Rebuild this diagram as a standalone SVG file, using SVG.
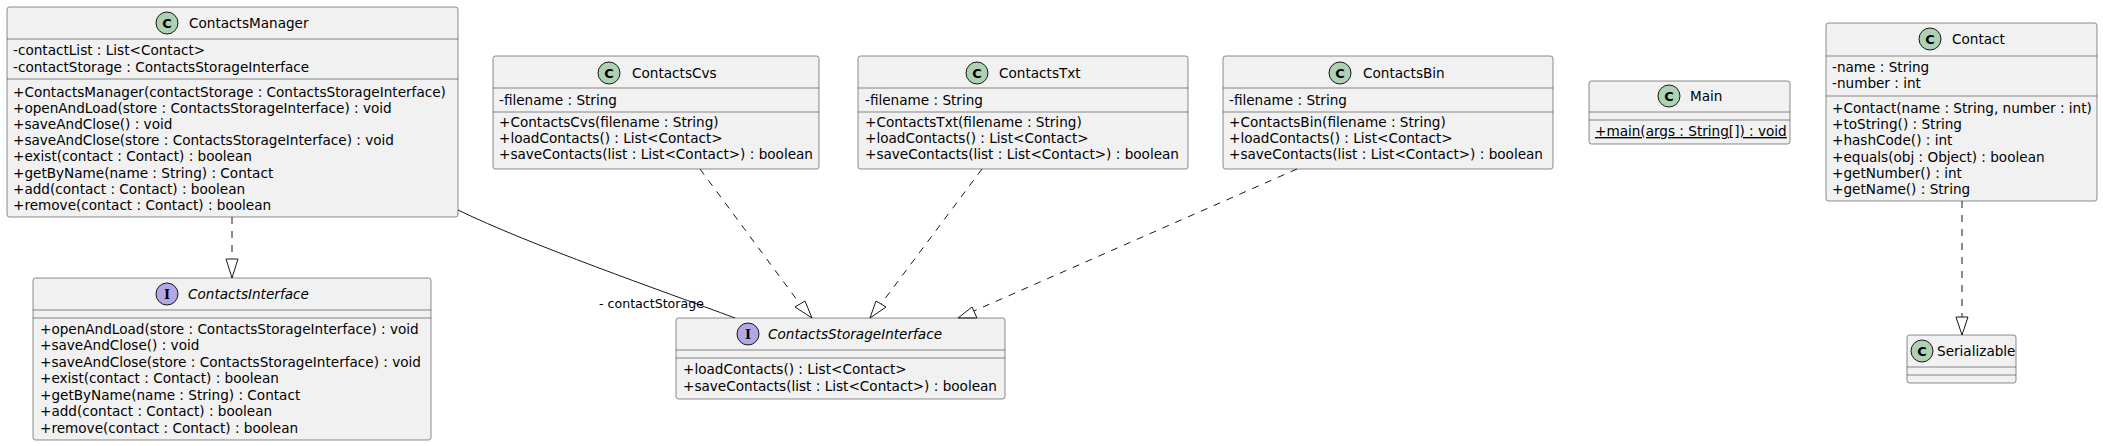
<svg xmlns="http://www.w3.org/2000/svg" width="2103" height="446" viewBox="0 0 2103 446">
<style>
.box{fill:#F1F1F1;stroke:#181818;stroke-width:0.5}
.sep{stroke:#181818;stroke-width:0.5}
.t{font-family:"DejaVu Sans",sans-serif;font-size:13.6px;fill:#000000}
.it{font-style:italic}
.cc{fill:#ADD1B2;stroke:#181818;stroke-width:1}
.ci{fill:#B4A7E5;stroke:#181818;stroke-width:1}
.g{font-family:"DejaVu Sans",sans-serif;font-weight:bold;font-size:13px;text-anchor:middle;fill:#000000}
.gi{font-family:"DejaVu Serif",serif;font-weight:bold;font-size:13px;text-anchor:middle;fill:#000000}
.dash{fill:none;stroke:#181818;stroke-width:1;stroke-dasharray:7,7}
.line{fill:none;stroke:#181818;stroke-width:1}
.head{fill:none;stroke:#181818;stroke-width:1}
.lbl{font-family:"DejaVu Sans",sans-serif;font-size:12.6px;fill:#000000}
</style>
<rect width="2103" height="446" fill="#FFFFFF"/>

<g id="ContactsManager">
<rect class="box" x="7" y="7" width="451" height="210" rx="2.5" ry="2.5"/>
<circle class="cc" cx="167" cy="23" r="11"/><text class="g" x="167" y="27.6">C</text>
<text class="t" x="189" y="28">ContactsManager</text>
<line class="sep" x1="7" y1="39" x2="458" y2="39"/>
<text class="t" x="13" y="55.3">-contactList : List&lt;Contact&gt;</text>
<text class="t" x="13" y="71.5">-contactStorage : ContactsStorageInterface</text>
<line class="sep" x1="7" y1="79" x2="458" y2="79"/>
<text class="t" x="13" y="96.5">+ContactsManager(contactStorage : ContactsStorageInterface)</text>
<text class="t" x="13" y="112.7">+openAndLoad(store : ContactsStorageInterface) : void</text>
<text class="t" x="13" y="128.9">+saveAndClose() : void</text>
<text class="t" x="13" y="145.1">+saveAndClose(store : ContactsStorageInterface) : void</text>
<text class="t" x="13" y="161.3">+exist(contact : Contact) : boolean</text>
<text class="t" x="13" y="177.5">+getByName(name : String) : Contact</text>
<text class="t" x="13" y="193.7">+add(contact : Contact) : boolean</text>
<text class="t" x="13" y="209.9">+remove(contact : Contact) : boolean</text>
</g>

<g id="ContactsInterface">
<rect class="box" x="33" y="278" width="398" height="162" rx="2.5" ry="2.5"/>
<circle class="ci" cx="167" cy="294" r="11"/><text class="gi" x="167" y="298.6">I</text>
<text class="t it" x="188" y="298.5">ContactsInterface</text>
<line class="sep" x1="33" y1="310" x2="431" y2="310"/>
<line class="sep" x1="33" y1="318" x2="431" y2="318"/>
<text class="t" x="40" y="334">+openAndLoad(store : ContactsStorageInterface) : void</text>
<text class="t" x="40" y="350.4">+saveAndClose() : void</text>
<text class="t" x="40" y="366.8">+saveAndClose(store : ContactsStorageInterface) : void</text>
<text class="t" x="40" y="383.3">+exist(contact : Contact) : boolean</text>
<text class="t" x="40" y="399.7">+getByName(name : String) : Contact</text>
<text class="t" x="40" y="416.2">+add(contact : Contact) : boolean</text>
<text class="t" x="40" y="432.7">+remove(contact : Contact) : boolean</text>
</g>

<g id="ContactsCvs">
<rect class="box" x="493" y="56" width="326" height="113" rx="2.5" ry="2.5"/>
<circle class="cc" cx="609" cy="73" r="11"/><text class="g" x="609" y="77.6">C</text>
<text class="t" x="632" y="77.5">ContactsCvs</text>
<line class="sep" x1="493" y1="88" x2="819" y2="88"/>
<text class="t" x="499" y="105">-filename : String</text>
<line class="sep" x1="493" y1="112" x2="819" y2="112"/>
<text class="t" x="499" y="127.3">+ContactsCvs(filename : String)</text>
<text class="t" x="499" y="143.3">+loadContacts() : List&lt;Contact&gt;</text>
<text class="t" x="499" y="159.3">+saveContacts(list : List&lt;Contact&gt;) : boolean</text>
</g>

<g id="ContactsTxt">
<rect class="box" x="858" y="56" width="330" height="113" rx="2.5" ry="2.5"/>
<circle class="cc" cx="977" cy="73" r="11"/><text class="g" x="977" y="77.6">C</text>
<text class="t" x="999" y="77.5">ContactsTxt</text>
<line class="sep" x1="858" y1="88" x2="1188" y2="88"/>
<text class="t" x="865" y="105">-filename : String</text>
<line class="sep" x1="858" y1="112" x2="1188" y2="112"/>
<text class="t" x="865" y="127.3">+ContactsTxt(filename : String)</text>
<text class="t" x="865" y="143.3">+loadContacts() : List&lt;Contact&gt;</text>
<text class="t" x="865" y="159.3">+saveContacts(list : List&lt;Contact&gt;) : boolean</text>
</g>

<g id="ContactsBin">
<rect class="box" x="1223" y="56" width="330" height="113" rx="2.5" ry="2.5"/>
<circle class="cc" cx="1340" cy="73" r="11"/><text class="g" x="1340" y="77.6">C</text>
<text class="t" x="1363" y="77.5">ContactsBin</text>
<line class="sep" x1="1223" y1="88" x2="1553" y2="88"/>
<text class="t" x="1229" y="105">-filename : String</text>
<line class="sep" x1="1223" y1="112" x2="1553" y2="112"/>
<text class="t" x="1229" y="127.3">+ContactsBin(filename : String)</text>
<text class="t" x="1229" y="143.3">+loadContacts() : List&lt;Contact&gt;</text>
<text class="t" x="1229" y="159.3">+saveContacts(list : List&lt;Contact&gt;) : boolean</text>
</g>

<g id="Main">
<rect class="box" x="1589" y="81" width="201" height="63" rx="2.5" ry="2.5"/>
<circle class="cc" cx="1669" cy="96" r="11"/><text class="g" x="1669" y="100.6">C</text>
<text class="t" x="1690" y="101">Main</text>
<line class="sep" x1="1589" y1="112" x2="1790" y2="112"/>
<line class="sep" x1="1589" y1="120" x2="1790" y2="120"/>
<text class="t" x="1595" y="136" text-decoration="underline">+main(args : String[]) : void</text>
</g>

<g id="Contact">
<rect class="box" x="1826" y="23" width="271" height="178" rx="2.5" ry="2.5"/>
<circle class="cc" cx="1930" cy="39" r="11"/><text class="g" x="1930" y="43.6">C</text>
<text class="t" x="1952" y="43.5">Contact</text>
<line class="sep" x1="1826" y1="56" x2="2097" y2="56"/>
<text class="t" x="1832" y="72">-name : String</text>
<text class="t" x="1832" y="88.3">-number : int</text>
<line class="sep" x1="1826" y1="96" x2="2097" y2="96"/>
<text class="t" x="1832" y="112.7">+Contact(name : String, number : int)</text>
<text class="t" x="1832" y="129">+toString() : String</text>
<text class="t" x="1832" y="145.3">+hashCode() : int</text>
<text class="t" x="1832" y="161.6">+equals(obj : Object) : boolean</text>
<text class="t" x="1832" y="177.9">+getNumber() : int</text>
<text class="t" x="1832" y="194.2">+getName() : String</text>
</g>

<g id="Serializable">
<rect class="box" x="1907" y="335" width="109" height="48" rx="2.5" ry="2.5"/>
<circle class="cc" cx="1922" cy="351" r="11"/><text class="g" x="1922" y="355.6">C</text>
<text class="t" x="1937" y="356">Serializable</text>
<line class="sep" x1="1907" y1="367" x2="2016" y2="367"/>
<line class="sep" x1="1907" y1="375" x2="2016" y2="375"/>
</g>

<g id="ContactsStorageInterface">
<rect class="box" x="676" y="318" width="329" height="81" rx="2.5" ry="2.5"/>
<circle class="ci" cx="748" cy="334" r="11"/><text class="gi" x="748" y="338.6">I</text>
<text class="t it" x="768" y="338.5">ContactsStorageInterface</text>
<line class="sep" x1="676" y1="350" x2="1005" y2="350"/>
<line class="sep" x1="676" y1="358" x2="1005" y2="358"/>
<text class="t" x="683" y="374.3">+loadContacts() : List&lt;Contact&gt;</text>
<text class="t" x="683" y="390.7">+saveContacts(list : List&lt;Contact&gt;) : boolean</text>
</g>

<g id="connectors">
<path class="dash" d="M232,217 L232,259"/>
<polygon class="head" points="226,259 238,259 232,278"/>
<path class="line" d="M458,210 C530,245 660,290 735,318"/>
<text class="lbl" x="599" y="308">- contactStorage</text>
<path class="dash" d="M700,169 L800,304"/>
<polygon class="head" points="795,307 805,301 812,318"/>
<path class="dash" d="M982,169 L881,304"/>
<polygon class="head" points="876,301 886,307 870,318"/>
<path class="dash" d="M1297,169 L974,311"/>
<polygon class="head" points="958,318 972,307 977,318"/>
<path class="dash" d="M1962,201 L1962,317"/>
<polygon class="head" points="1956,317 1968,317 1962,335"/>
</g>
</svg>
